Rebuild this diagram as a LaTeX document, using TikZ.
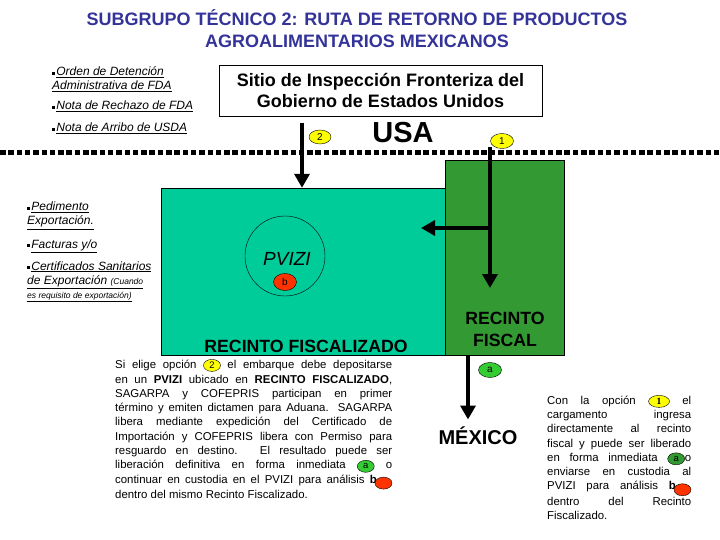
\documentclass[tikz,border=0pt]{standalone}
\usepackage{fontspec}
\setmainfont{Liberation Sans}
\newfontfamily\serifa{Liberation Serif}
\usetikzlibrary{arrows.meta,shapes.geometric}

\definecolor{azultitulo}{HTML}{333399}
\definecolor{verdeagua}{HTML}{00CC99}
\definecolor{verdefiscal}{HTML}{339933}
\definecolor{verdeclaro}{HTML}{33CC33}
\definecolor{rojo}{HTML}{FF3300}
\definecolor{amarillo}{HTML}{FFFF00}

\newcommand{\cuadrito}{\rule[0.2ex]{2.8pt}{2.8pt}\hspace{1.4pt}}
\newcommand{\opcion}[3][17pt]{\tikz[baseline=(op.base)]\node[ellipse, draw, fill=#2, inner sep=0pt, minimum width=#1, minimum height=12pt, font=\fontsize{9.5}{9.5}\selectfont] (op) {#3};}

\begin{document}
\begin{tikzpicture}[x=1pt, y=-1pt,
	caja/.style={draw, rectangle, inner sep=0pt},
	etiqueta/.style={ellipse, draw, inner sep=0pt, minimum width=23pt, minimum height=15pt, font=\fontsize{10}{10}\selectfont},
	flecha/.style={line width=4pt, -{Triangle[width=15pt, length=14pt]}},
	lista/.style={anchor=base west, inner sep=0pt, align=left, font=\fontsize{12}{14}\selectfont\itshape},
	parrafo/.style={anchor=north west, inner sep=0pt, align=justify, font=\fontsize{11.4}{14.3}\selectfont}
	]
	
	\useasboundingbox (0,0) rectangle (720,540);
	
	% Title
	\node[font=\fontsize{18}{22}\selectfont\bfseries, text=azultitulo, align=center] (titulo) at (357,29)
		{SUBGRUPO TÉCNICO 2: RUTA DE RETORNO DE PRODUCTOS\\AGROALIMENTARIOS MEXICANOS};
	
	% US inspection site
	\node[caja, minimum width=323pt, minimum height=51pt, align=center, font=\fontsize{18}{21}\selectfont\bfseries] (sitio) at (380.5,90.5)
		{Sitio de Inspección Fronteriza del\\Gobierno de Estados Unidos};
	
	% Border line
	\draw[line width=5pt, dash pattern=on 5.5pt off 2.8pt] (0,153) -- (720,153);
	
	% Bonded areas
	\node[caja, fill=verdeagua, minimum width=284pt, minimum height=167pt] (fiscalizado) at (303,271.5) {};
	\node[caja, fill=verdefiscal, minimum width=119pt, minimum height=195pt] (fiscal) at (504.5,257.5) {};
	
	% PVIZI
	\node[circle, draw, minimum size=80pt] (pvizi) at (285,256) {};
	\node[font=\fontsize{19}{19}\selectfont\itshape] (pvizitxt) at (287,259) {PVIZI};
	\node[etiqueta, fill=rojo, minimum height=17pt] (b) at (285,282) {b};
	
	% Box labels
	\node[font=\fontsize{17.7}{19}\selectfont\bfseries] (txtfiscalizado) at (306,346) {RECINTO FISCALIZADO};
	\node[align=center, font=\fontsize{17.7}{22}\selectfont\bfseries] (txtfiscal) at (505,329) {RECINTO\\FISCAL};
	\node[font=\fontsize{29}{29}\selectfont\bfseries] (usa) at (403,133) {USA};
	\node[font=\fontsize{20}{20}\selectfont\bfseries] (mexico) at (478,436) {MÉXICO};
	
	% Options
	\node[etiqueta, fill=amarillo, minimum width=22pt, minimum height=14pt] (e2) at (320,137) {2};
	\node[etiqueta, fill=amarillo] (e1) at (502,141) {1};
	\node[etiqueta, fill=verdeclaro] (a) at (490,370) {a};
	
	% Routes
	\coordinate (inicio2) at (302,123);
	\coordinate (inicio1) at (490,147);
	\coordinate (fin1) at (490,288);
	\coordinate (cruce) at (490,228);
	\coordinate (fin1b) at (421,228);
	\coordinate (salida) at (468,355);
	\draw[flecha] (inicio2) -- (inicio2 |- fiscalizado.north);
	\draw[flecha] (inicio1) -- (fin1);
	\draw[flecha] (cruce) -- (fin1b);
	\draw[flecha] (salida) -- ([yshift=4pt]salida |- mexico.north);
	
	% Documents, USA side
	\node[lista] (orden) at (52,90) {\cuadrito\underline{Orden de Detención}\\\underline{Administrativa de FDA}};
	\node[lista] (rechazo) at (52,110) {\cuadrito\underline{Nota de Rechazo de FDA}};
	\node[lista] (arribo) at (52,132) {\cuadrito\underline{Nota de Arribo de USDA}};
	
	% Documents, Mexican side
	\node[lista] (pedimento) at (27,225) {\cuadrito\underline{Pedimento}\\\underline{Exportación.}};
	\node[lista] (facturas) at (27,248) {\cuadrito\underline{Facturas y/o}};
	\node[lista] (certificados) at (27,298) {\cuadrito\underline{Certificados Sanitarios}\\
		\underline{de Exportación {\fontsize{8.5}{14}\selectfont(Cuando}}\\
		\underline{\fontsize{8.5}{14}\selectfont es requisito de exportación)}};
	
	% Option 2 text
	\node[parrafo, text width=277pt] (texto2) at (115,359) {Si elige opción \opcion{amarillo}{2} el embarque debe depositarse\linebreak
		en un \textbf{PVIZI} ubicado en \textbf{RECINTO FISCALIZADO},\linebreak
		SAGARPA y COFEPRIS participan en primer\linebreak
		término y emiten dictamen para Aduana. SAGARPA\linebreak
		libera mediante expedición del Certificado de\linebreak
		Importación y COFEPRIS libera con Permiso para\linebreak
		resguardo en destino. El resultado puede ser\linebreak
		liberación definitiva en forma inmediata \opcion{verdeclaro}{a} o\linebreak
		continuar en custodia en el PVIZI para análisis \textbf{b}\kern-2pt\opcion{rojo}{}\linebreak
		dentro del mismo Recinto Fiscalizado.};
	
	% Option 1 text
	\node[parrafo, text width=144pt, font=\fontsize{11.4}{14.2}\selectfont] (texto1) at (547,395) {Con la opción \opcion[21pt]{amarillo}{\serifa\bfseries 1} el\linebreak
		cargamento ingresa\linebreak
		directamente al recinto\linebreak
		fiscal y puede ser liberado\linebreak
		en forma inmediata \opcion{verdefiscal}{a}o\linebreak
		enviarse en custodia al\linebreak
		PVIZI para análisis \textbf{b}\kern-2pt\opcion{rojo}{}\linebreak
		dentro del Recinto\linebreak
		Fiscalizado.};
	
\end{tikzpicture}
\end{document}
